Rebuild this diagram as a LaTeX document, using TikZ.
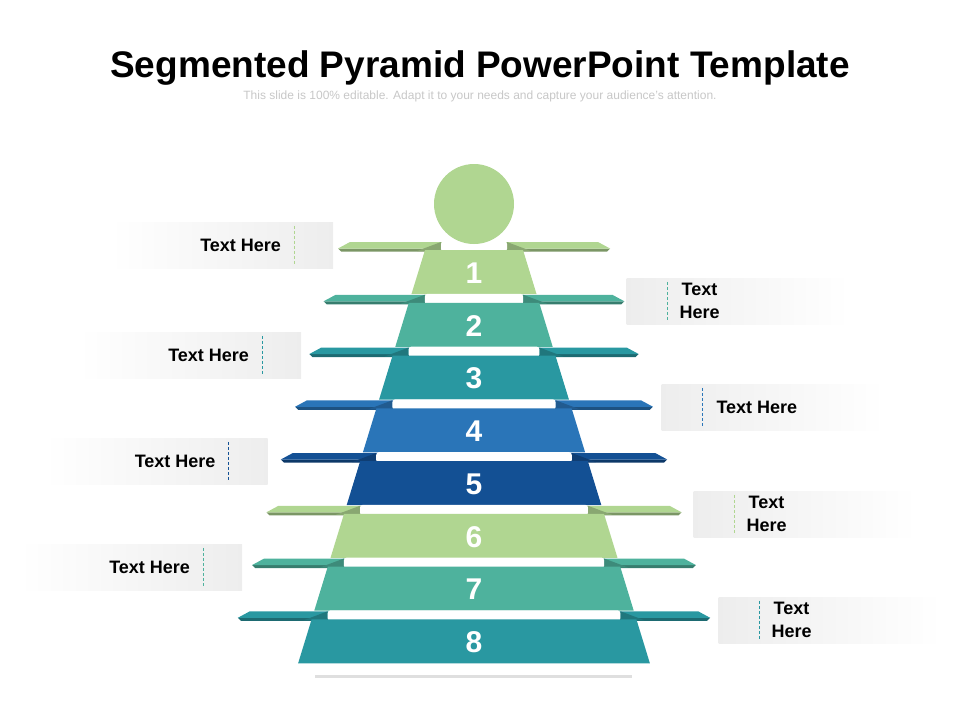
\documentclass[tikz,border=0pt]{standalone}
\usepackage{fontspec}
\setmainfont{Liberation Sans}
\usepackage{xcolor}
\usepackage{tikz}
\usetikzlibrary{positioning, shadows}

\definecolor{lgreen}{RGB}{176,214,145}
\definecolor{tgreen}{RGB}{78,178,157}
\definecolor{teal}{RGB}{41,152,161}
\definecolor{blue}{RGB}{42,117,184}
\definecolor{dblue}{RGB}{19,80,148}

\begin{document}
\begin{tikzpicture}[
x=1pt,
y=-1pt,
lbox/.style={
rectangle,
minimum width=223pt,
minimum height=46pt,
inner sep=0pt,
left color=white,
right color=black!7
},
rbox/.style={
rectangle,
minimum width=223pt,
minimum height=46pt,
inner sep=0pt,
left color=black!7,
right color=white
},
tag/.style={
font=\fontsize{18}{23}\selectfont\bfseries,
align=center,
inner sep=0pt
},
num/.style={
font=\fontsize{30}{30}\selectfont\bfseries,
text=white,
inner sep=0pt
},
divider/.style={
line width=0.9pt,
dash pattern=on 3pt off 2pt
}
]

\useasboundingbox (0,0) rectangle (960,720);

\node[font=\fontsize{37}{40}\selectfont\bfseries, anchor=base] (title) at (480,77)
{Segmented Pyramid PowerPoint Template};
\node[font=\fontsize{12}{14}\selectfont, text=black!22, anchor=base] (sub) at (480,99)
{This slide is 100\% editable. Adapt it to your needs and capture your audience’s attention.};

\node[fill=white, minimum width=317pt, minimum height=12pt, inner sep=0pt,
drop shadow={shadow xshift=0pt, shadow yshift=-3pt, opacity=0.25}] (base) at (473.5,669) {};

\foreach \i/\col in {1/lgreen,2/tgreen,3/teal,4/blue,5/dblue,6/lgreen,7/tgreen,8/teal}{
\pgfmathsetmacro\ytop{250+52.75*(\i-1)}
\pgfmathsetmacro\ybot{\ytop+44}
\pgfmathsetmacro\wtop{49+0.307*(\ytop-250)}
\pgfmathsetmacro\wbot{49+0.307*(\ybot-250)}
\pgfmathsetmacro\wplate{136+14.3*(\i-1)}
\fill[\col!70!black] (474-\wplate,\ytop-1.5) -- (474+\wplate,\ytop-1.5) -- (474+\wplate-3,\ytop+1.5) -- (474-\wplate+3,\ytop+1.5) -- cycle;
\fill[\col] (474-\wplate+12,\ytop-8) -- (474+\wplate-12,\ytop-8) -- (474+\wplate,\ytop-1.5) -- (474-\wplate,\ytop-1.5) -- cycle;
\fill[\col!78!black] (474-\wtop+16,\ytop-8) -- (474-\wtop-8,\ytop+1) -- (474-\wtop+16,\ytop+1) -- cycle;
\fill[\col!78!black] (474+\wtop-16,\ytop-8) -- (474+\wtop+8,\ytop+1) -- (474+\wtop-16,\ytop+1) -- cycle;
\fill[white, rounded corners=3pt] (474-\wtop+16,\ytop-9) rectangle (474+\wtop-16,\ytop+2);
\fill[\col] (474-\wtop,\ytop) -- (474+\wtop,\ytop) -- (474+\wbot,\ybot) -- (474-\wbot,\ybot) -- cycle;
\node[num] (n\i) at (474,\ytop+23) {\i};
}

\node[circle, fill=lgreen, minimum size=80pt, inner sep=0pt] (head) at (474,204) {};

\node[lbox] (l1) at (221.5,245) {};
\node[lbox] (l3) at (189.5,355) {};
\node[lbox] (l5) at (156,461) {};
\node[lbox] (l7) at (130.5,567) {};

\node[rbox] (r2) at (738,301) {};
\node[rbox] (r4) at (773,407) {};
\node[rbox] (r6) at (805,514) {};
\node[rbox] (r8) at (830,620) {};

\draw[divider, lgreen] ([xshift=-39pt,yshift=-4pt]l1.north east) -- ([xshift=-39pt,yshift=4pt]l1.south east);
\draw[divider, teal] ([xshift=-39pt,yshift=-4pt]l3.north east) -- ([xshift=-39pt,yshift=4pt]l3.south east);
\draw[divider, dblue] ([xshift=-39pt,yshift=-4pt]l5.north east) -- ([xshift=-39pt,yshift=4pt]l5.south east);
\draw[divider, tgreen] ([xshift=-39pt,yshift=-4pt]l7.north east) -- ([xshift=-39pt,yshift=4pt]l7.south east);

\draw[divider, tgreen] ([xshift=41pt,yshift=-4pt]r2.north west) -- ([xshift=41pt,yshift=4pt]r2.south west);
\draw[divider, blue] ([xshift=41pt,yshift=-4pt]r4.north west) -- ([xshift=41pt,yshift=4pt]r4.south west);
\draw[divider, lgreen] ([xshift=41pt,yshift=-4pt]r6.north west) -- ([xshift=41pt,yshift=4pt]r6.south west);
\draw[divider, teal] ([xshift=41pt,yshift=-4pt]r8.north west) -- ([xshift=41pt,yshift=4pt]r8.south west);

\node[tag, anchor=east] (t1) at ([xshift=-52pt]l1.east) {Text Here};
\node[tag, anchor=east] (t3) at ([xshift=-52pt]l3.east) {Text Here};
\node[tag, anchor=east] (t5) at ([xshift=-52pt]l5.east) {Text Here};
\node[tag, anchor=east] (t7) at ([xshift=-52pt]l7.east) {Text Here};

\node[tag, anchor=west] (t2) at ([xshift=53pt]r2.west) {Text\\Here};
\node[tag, anchor=west] (t4) at ([xshift=55pt]r4.west) {Text Here};
\node[tag, anchor=west] (t6) at ([xshift=53pt]r6.west) {Text\\Here};
\node[tag, anchor=west] (t8) at ([xshift=53pt]r8.west) {Text\\Here};

\end{tikzpicture}
\end{document}
